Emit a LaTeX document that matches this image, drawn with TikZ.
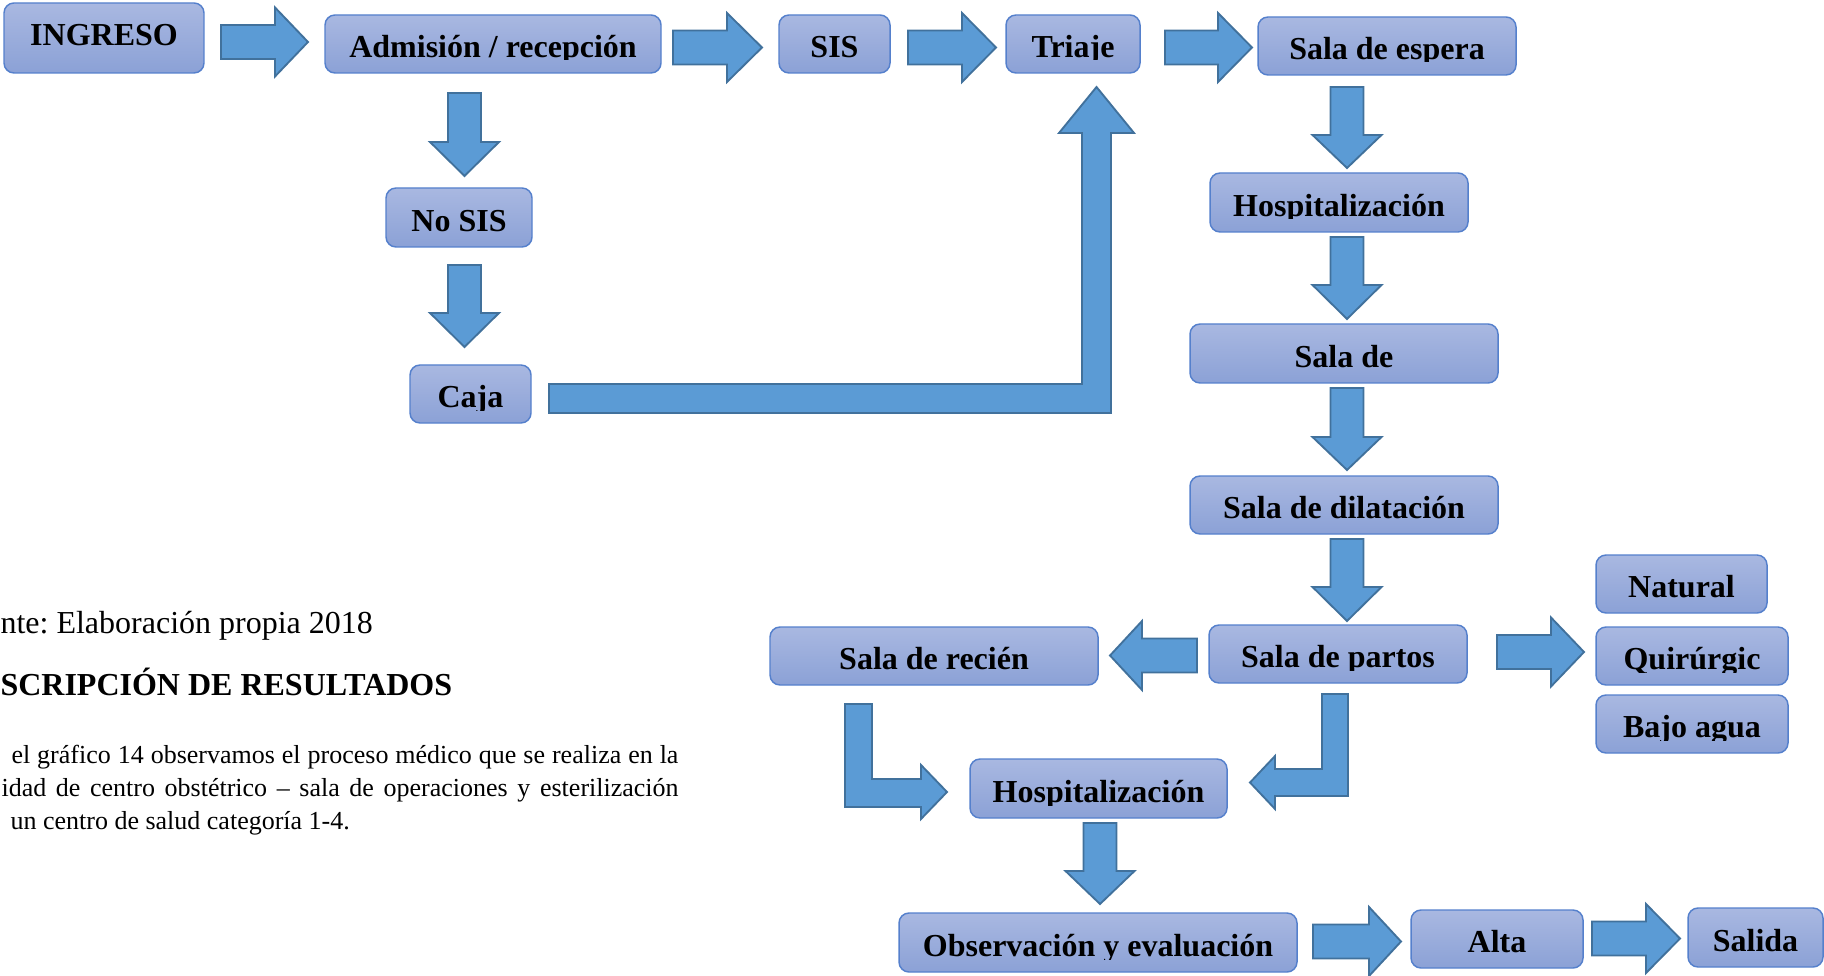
\documentclass[tikz,border=0pt]{standalone}
\usepackage{fontspec}
\setmainfont{Liberation Serif}
\usetikzlibrary{fit,calc}
\frenchspacing
\definecolor{boxtop}{HTML}{A9B8E1}
\definecolor{boxbot}{HTML}{8BA1D6}
\definecolor{boxline}{HTML}{5580CC}
\definecolor{arrfill}{HTML}{5B9BD5}
\definecolor{arrline}{HTML}{41719C}
\tikzset{
  boxst/.style={draw=boxline, line width=0.55pt, rounded corners=3.75pt, top color=boxtop, bottom color=boxbot, inner sep=0pt, outer sep=0pt},
  lbl/.style={inner sep=0pt, font=\fontsize{12}{14}\selectfont\bfseries},
  barrow/.style={fill=arrfill, draw=arrline, line width=0.7pt, line join=miter},
  txt/.style={inner sep=0pt, anchor=base west, font=\fontsize{12}{14}\selectfont},
  ptxt/.style={inner sep=0pt, anchor=base west, font=\fontsize{9.75}{12}\selectfont},
}
% name x1 y1 x2 y2 baseline-offset text
\newcommand\mkbox[7]{%
  \node[boxst, fit={(#2,#3) (#4,#5)}] (#1) {};
  \begin{scope}
    \clip (#2,#3) rectangle (#4,#5-13);
    \node[lbl, anchor=base] at ($(#1.south)+(0,-#6)$) {#7};
  \end{scope}}
% horizontal block arrow: x-start x-headbase x-tip y-centre
\newcommand\myHArrow[4]{\filldraw[barrow] (#1,#4-17) -- (#2,#4-17) -- (#2,#4-34.5) -- (#3,#4) -- (#2,#4+34.5) -- (#2,#4+17) -- (#1,#4+17) -- cycle;}
% vertical block arrow: x-centre y-start y-headbase y-tip
\newcommand\myVArrow[4]{\filldraw[barrow] (#1-16.5,#2) -- (#1+16.5,#2) -- (#1+16.5,#3) -- (#1+34.5,#3) -- (#1,#4) -- (#1-34.5,#3) -- (#1-16.5,#3) -- cycle;}
\begin{document}
\begin{tikzpicture}[x=0.375pt, y=-0.375pt]
\useasboundingbox (0,0) rectangle (1824,976);

% boxes
\mkbox{ingreso}{4}{3}{204}{73}{27}{INGRESO}
\mkbox{admision}{325}{15}{661}{73}{15.5}{Admisión / recepción}
\mkbox{sis}{779}{15}{890}{73}{15.5}{SIS}
\mkbox{triaje}{1006}{15}{1140}{73}{15.5}{Triaje}
\mkbox{espera}{1258}{17}{1516}{75}{15.5}{Sala de espera}
\mkbox{hospa}{1210}{173}{1468}{232}{15.5}{Hospitalización}
\mkbox{salade}{1190}{324}{1498}{383}{15.5}{Sala de}
\mkbox{dilat}{1190}{476}{1498}{534}{15.5}{Sala de dilatación}
\mkbox{partos}{1209}{625}{1467}{683}{15.5}{Sala de partos}
\mkbox{recien}{770}{627}{1098}{685}{15.5}{Sala de recién}
\mkbox{natural}{1596}{555}{1767}{613}{15.5}{Natural}
\mkbox{quirur}{1596}{627}{1788}{685}{15.5}{Quirúrgic}
\mkbox{bajo}{1596}{695}{1788}{753}{15.5}{Bajo agua}
\mkbox{hospb}{970}{759}{1227}{818}{15.5}{Hospitalización}
\mkbox{obs}{899}{913}{1297}{972}{15.5}{Observación y evaluación}
\mkbox{alta}{1411}{910}{1583}{968}{15.5}{Alta}
\mkbox{salida}{1688}{908}{1823}{967}{15.5}{Salida}
\mkbox{nosis}{386}{188}{532}{247}{15.5}{No SIS}
\mkbox{caja}{410}{365}{531}{423}{15.5}{Caja}

% straight block arrows
\myHArrow{221}{275}{308}{42}
\myHArrow{673}{727}{762}{47.5}
\myHArrow{908}{962}{996}{47.5}
\myHArrow{1165}{1218}{1252}{47.5}
\myHArrow{1497}{1551}{1584}{652}
\myHArrow{1197}{1142}{1110}{655.5}
\myHArrow{1313}{1369}{1401}{941.5}
\myHArrow{1592}{1646}{1680}{938.5}
\myVArrow{1347}{87}{135}{168}
\myVArrow{1347}{237}{285}{319}
\myVArrow{1347}{388}{437}{470}
\myVArrow{1347}{539}{587}{621}
\myVArrow{464.5}{93}{142}{176}
\myVArrow{464.5}{265}{313}{347}
\myVArrow{1100}{823}{871}{904}

% bent block arrows
\filldraw[barrow] (549,384) -- (1082,384) -- (1082,133) -- (1059,133) -- (1096.5,87) -- (1134,133) -- (1111,133) -- (1111,413) -- (549,413) -- cycle;
\filldraw[barrow] (845,704) -- (872,704) -- (872,779) -- (921,779) -- (921,765) -- (947,792) -- (921,819) -- (921,807) -- (845,807) -- cycle;
\filldraw[barrow] (1322,694) -- (1348,694) -- (1348,796) -- (1275,796) -- (1275,809) -- (1250,782.5) -- (1275,756) -- (1275,769) -- (1322,769) -- cycle;

% page text
\node[txt] (fuente) at (0,633) {nte: Elaboración propia 2018};
\node[txt, font=\fontsize{12}{14}\selectfont\bfseries] (titulo) at (0,695) {SCRIPCIÓN DE RESULTADOS};
\node[ptxt] (pa) at (11,763) {\makebox[250.1pt][s]{el gráfico 14 observamos el proceso médico que se realiza en la}};
\node[ptxt] (pb) at (1,796) {\makebox[253.9pt][s]{idad de centro obstétrico – sala de operaciones y esterilización}};
\node[ptxt] (pc) at (10,829) {un centro de salud categoría 1-4.};
\end{tikzpicture}
\end{document}
